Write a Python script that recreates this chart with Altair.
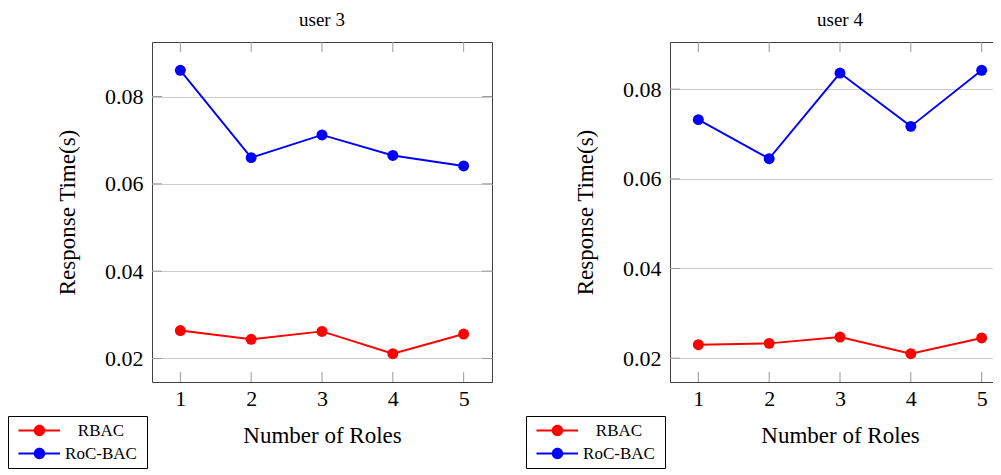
import altair as alt
import pandas as pd

# ---- data ----
roles = [1, 2, 3, 4, 5]
series_names = ["RBAC", "RoC-BAC"]
series_colors = ["#ff0000", "#0000ff"]

user3_rbac = [0.0264, 0.0244, 0.0262, 0.0211, 0.0256]
user3_rocbac = [0.0860, 0.0660, 0.0712, 0.0665, 0.0641]
user4_rbac = [0.0230, 0.0233, 0.0247, 0.0210, 0.0245]
user4_rocbac = [0.0732, 0.0645, 0.0836, 0.0717, 0.0842]

x_ticks = [1, 2, 3, 4, 5]
y_ticks = [0.02, 0.04, 0.06, 0.08]
panel_titles = ["user 3", "user 4"]
x_title = "Number of Roles"
y_title = "Response Time(s)"

FONT = "Liberation Serif"
W = 340
H = 340
GAP = 178
TICK = 10
TICK_COLOR = "#999999"

# whole drawing: svg 985 x 459 placed at the page's 8px margin
SVG_W = 985
SVG_H = 459
PAD_L = 144
PAD_T = 34

# legend symbol: short line with a filled circle (custom path, filled)
LEG_PATH = ("M-0.67,-0.15H6.25V0.15H-0.67Z "
            "M3.78,0A0.95,0.95,0,1,1,1.88,0A0.95,0.95,0,1,1,3.78,0Z")


def enlarge(vals, frac=0.1):
    lo, hi = min(vals), max(vals)
    pad = frac * (hi - lo)
    return [lo - pad, hi + pad]


def panel(title, rbac, rocbac):
    df = pd.DataFrame({
        "roles": roles * 2,
        "series": [series_names[0]] * len(roles) + [series_names[1]] * len(roles),
        "time": rbac + rocbac,
    })
    xs = alt.Scale(domain=enlarge(roles), nice=False, zero=False)
    ys = alt.Scale(domain=enlarge(rbac + rocbac), nice=False, zero=False)
    x_axis = alt.Axis(values=x_ticks, format="d", title=x_title, grid=False,
                      domain=False, ticks=False, labelPadding=6,
                      titleY=60, titleBaseline="alphabetic")
    y_axis = alt.Axis(values=y_ticks, format=".2f", title=y_title, grid=True,
                      gridColor="#cccccc", gridWidth=1, domain=False, ticks=False,
                      labelPadding=9, titleX=-78, titleBaseline="alphabetic")
    x_enc = alt.X("roles:Q", scale=xs, axis=x_axis)
    y_enc = alt.Y("time:Q", scale=ys, axis=y_axis)

    xt = pd.DataFrame({"roles": x_ticks})
    yt = pd.DataFrame({"time": y_ticks})
    tick_b = alt.Chart(xt).mark_rule(color=TICK_COLOR, strokeWidth=1).encode(
        x=x_enc, y=alt.value(H), y2=alt.value(H - TICK))
    tick_t = alt.Chart(xt).mark_rule(color=TICK_COLOR, strokeWidth=1).encode(
        x=x_enc, y=alt.value(0), y2=alt.value(TICK))
    tick_l = alt.Chart(yt).mark_rule(color=TICK_COLOR, strokeWidth=1).encode(
        y=y_enc, x=alt.value(0), x2=alt.value(TICK))
    tick_r = alt.Chart(yt).mark_rule(color=TICK_COLOR, strokeWidth=1).encode(
        y=y_enc, x=alt.value(W), x2=alt.value(W - TICK))

    cscale = alt.Scale(domain=series_names, range=series_colors)
    line = alt.Chart(df).mark_line(strokeWidth=1.9).encode(
        x=x_enc, y=y_enc,
        color=alt.Color("series:N", scale=cscale),
    )
    pts = alt.Chart(df).mark_point(filled=True, size=120, opacity=1).encode(
        x=x_enc, y=y_enc,
        color=alt.Color("series:N", scale=cscale,
                        legend=alt.Legend(
                            orient="none", legendX=-144, legendY=374,
                            direction="vertical",
                            title=" ", titleOrient="right", titlePadding=4,
                            titleFontSize=16, titleFont=FONT,
                            symbolType=LEG_PATH, symbolSize=144,
                            symbolStrokeWidth=0, symbolOpacity=1,
                            labelFont=FONT, labelFontSize=17, labelColor="black",
                            labelAlign="center", labelOffset=70,
                            padding=6, rowPadding=5,
                            strokeColor="black", fillColor="white",
                        )),
    )
    return alt.layer(pts, line, tick_b, tick_t, tick_l, tick_r).properties(
        width=W, height=H,
        title=alt.TitleParams(title, font=FONT, fontSize=19, fontWeight="normal",
                              color="black", anchor="middle", baseline="alphabetic",
                              offset=-3),
    )


p1 = panel(panel_titles[0], user3_rbac, user3_rocbac)
p2 = panel(panel_titles[1], user4_rbac, user4_rocbac)

chart = alt.hconcat(p1, p2, spacing=GAP, bounds="flush").resolve_scale(
    x="independent", y="independent", color="independent"
).resolve_legend(color="independent").resolve_axis(
    x="independent", y="independent"
).configure_view(
    stroke="#404040", strokeWidth=1
).configure_axis(
    labelFont=FONT, labelFontSize=22, labelColor="black",
    titleFont=FONT, titleFontSize=23, titleColor="black", titleFontWeight="normal",
).properties(
    autosize=alt.AutoSizeParams(type="none"),
    padding={"left": PAD_L, "top": PAD_T,
             "right": SVG_W - PAD_L, "bottom": SVG_H - PAD_T},
    background="white",
)

chart.save("out.html", embed_options={"renderer": "svg", "actions": False})
